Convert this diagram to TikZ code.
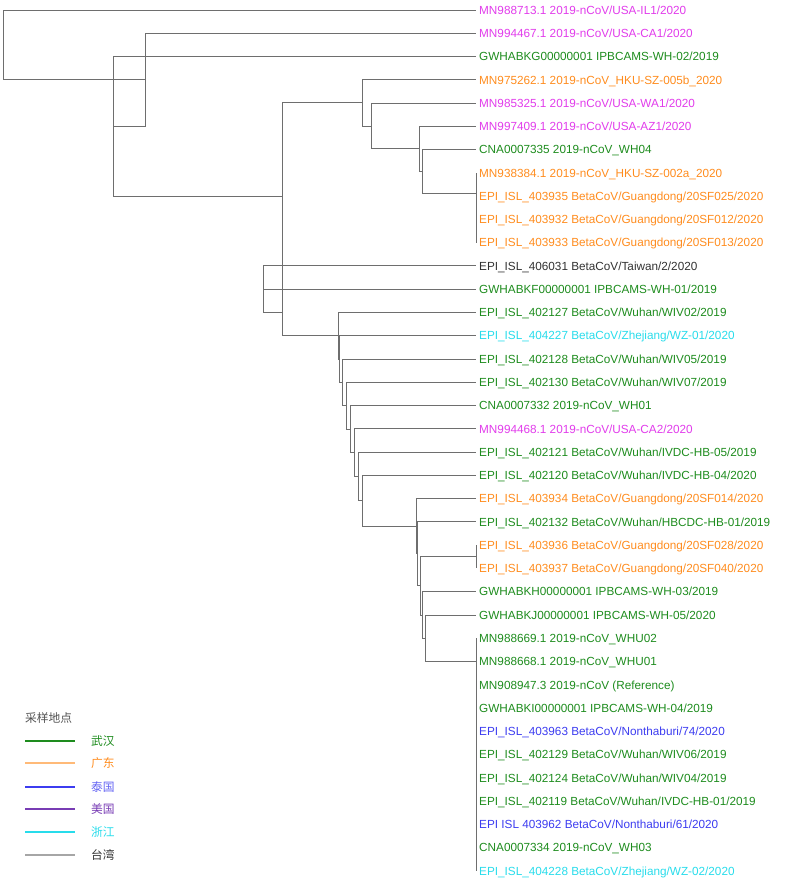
\documentclass[tikz,border=0pt]{standalone}
\usepackage{fontspec}
\setmainfont{Liberation Sans}
\newfontfamily\cjk{Noto Sans CJK SC}
\definecolor{wuhan}{RGB}{30,140,30}
\definecolor{gdong}{RGB}{255,140,30}
\definecolor{usa}{RGB}{225,60,235}
\definecolor{thai}{RGB}{60,60,240}
\definecolor{zhej}{RGB}{40,220,235}
\definecolor{taiw}{RGB}{50,50,50}
\definecolor{usakey}{RGB}{120,60,180}
\definecolor{branch}{RGB}{110,110,110}
\tikzset{
  leaf/.style={anchor=west, inner xsep=3pt, inner ysep=0pt, text height=8.4pt, text depth=0pt, font=\fontsize{11.75}{14}\selectfont},
  edge/.style={draw=branch, line width=1pt},
  keyline/.style={line width=1.2pt},
  keytext/.style={anchor=west, inner sep=0pt, font=\cjk\fontsize{11.75}{14}\selectfont}
}
\begin{document}
\begin{tikzpicture}[x=1pt, y=-1pt]
\useasboundingbox (0,0) rectangle (790,889);
\node [leaf, text=usa] (l1) at (476,10) {MN988713.1 2019-nCoV/USA-IL1/2020};
\node [leaf, text=usa] (l2) at (476,33.27) {MN994467.1 2019-nCoV/USA-CA1/2020};
\node [leaf, text=wuhan] (l3) at (476,56.54) {GWHABKG00000001 IPBCAMS-WH-02/2019};
\node [leaf, text=gdong] (l4) at (476,79.81) {MN975262.1 2019-nCoV\_HKU-SZ-005b\_2020};
\node [leaf, text=usa] (l5) at (476,103.08) {MN985325.1 2019-nCoV/USA-WA1/2020};
\node [leaf, text=usa] (l6) at (476,126.35) {MN997409.1 2019-nCoV/USA-AZ1/2020};
\node [leaf, text=wuhan] (l7) at (476,149.62) {CNA0007335 2019-nCoV\_WH04};
\node [leaf, text=gdong] (l8) at (476,172.89) {MN938384.1 2019-nCoV\_HKU-SZ-002a\_2020};
\node [leaf, text=gdong] (l9) at (476,196.16) {EPI\_ISL\_403935 BetaCoV/Guangdong/20SF025/2020};
\node [leaf, text=gdong] (l10) at (476,219.43) {EPI\_ISL\_403932 BetaCoV/Guangdong/20SF012/2020};
\node [leaf, text=gdong] (l11) at (476,242.70) {EPI\_ISL\_403933 BetaCoV/Guangdong/20SF013/2020};
\node [leaf, text=taiw] (l12) at (476,265.97) {EPI\_ISL\_406031 BetaCoV/Taiwan/2/2020};
\node [leaf, text=wuhan] (l13) at (476,289.24) {GWHABKF00000001 IPBCAMS-WH-01/2019};
\node [leaf, text=wuhan] (l14) at (476,312.51) {EPI\_ISL\_402127 BetaCoV/Wuhan/WIV02/2019};
\node [leaf, text=zhej] (l15) at (476,335.78) {EPI\_ISL\_404227 BetaCoV/Zhejiang/WZ-01/2020};
\node [leaf, text=wuhan] (l16) at (476,359.05) {EPI\_ISL\_402128 BetaCoV/Wuhan/WIV05/2019};
\node [leaf, text=wuhan] (l17) at (476,382.32) {EPI\_ISL\_402130 BetaCoV/Wuhan/WIV07/2019};
\node [leaf, text=wuhan] (l18) at (476,405.59) {CNA0007332 2019-nCoV\_WH01};
\node [leaf, text=usa] (l19) at (476,428.86) {MN994468.1 2019-nCoV/USA-CA2/2020};
\node [leaf, text=wuhan] (l20) at (476,452.13) {EPI\_ISL\_402121 BetaCoV/Wuhan/IVDC-HB-05/2019};
\node [leaf, text=wuhan] (l21) at (476,475.40) {EPI\_ISL\_402120 BetaCoV/Wuhan/IVDC-HB-04/2020};
\node [leaf, text=gdong] (l22) at (476,498.67) {EPI\_ISL\_403934 BetaCoV/Guangdong/20SF014/2020};
\node [leaf, text=wuhan] (l23) at (476,521.94) {EPI\_ISL\_402132 BetaCoV/Wuhan/HBCDC-HB-01/2019};
\node [leaf, text=gdong] (l24) at (476,545.21) {EPI\_ISL\_403936 BetaCoV/Guangdong/20SF028/2020};
\node [leaf, text=gdong] (l25) at (476,568.48) {EPI\_ISL\_403937 BetaCoV/Guangdong/20SF040/2020};
\node [leaf, text=wuhan] (l26) at (476,591.75) {GWHABKH00000001 IPBCAMS-WH-03/2019};
\node [leaf, text=wuhan] (l27) at (476,615.02) {GWHABKJ00000001 IPBCAMS-WH-05/2020};
\node [leaf, text=wuhan] (l28) at (476,638.29) {MN988669.1 2019-nCoV\_WHU02};
\node [leaf, text=wuhan] (l29) at (476,661.56) {MN988668.1 2019-nCoV\_WHU01};
\node [leaf, text=wuhan] (l30) at (476,684.83) {MN908947.3 2019-nCoV (Reference)};
\node [leaf, text=wuhan] (l31) at (476,708.10) {GWHABKI00000001 IPBCAMS-WH-04/2019};
\node [leaf, text=thai] (l32) at (476,731.37) {EPI\_ISL\_403963 BetaCoV/Nonthaburi/74/2020};
\node [leaf, text=wuhan] (l33) at (476,754.64) {EPI\_ISL\_402129 BetaCoV/Wuhan/WIV06/2019};
\node [leaf, text=wuhan] (l34) at (476,777.91) {EPI\_ISL\_402124 BetaCoV/Wuhan/WIV04/2019};
\node [leaf, text=wuhan] (l35) at (476,801.18) {EPI\_ISL\_402119 BetaCoV/Wuhan/IVDC-HB-01/2019};
\node [leaf, text=thai] (l36) at (476,824.45) {EPI ISL 403962 BetaCoV/Nonthaburi/61/2020};
\node [leaf, text=wuhan] (l37) at (476,847.72) {CNA0007334 2019-nCoV\_WH03};
\node [leaf, text=zhej] (l38) at (476,870.99) {EPI\_ISL\_404228 BetaCoV/Zhejiang/WZ-02/2020};
% inner nodes of the tree
\coordinate (c1) at (3,44.9);
\coordinate (c2) at (145,79.8);
\coordinate (c3) at (113,126.3);
\coordinate (d) at (282,196.05);
\coordinate (c4) at (362.5,102.9);
\coordinate (c5) at (371.7,126.0);
\coordinate (c6) at (419.3,148.9);
\coordinate (c7) at (422.3,171.4);
\coordinate (c8) at (476,193.2);
\coordinate (c9) at (476,213.6);
\coordinate (c10) at (476,231.07);
\coordinate (c12) at (263.3,289.2);
\coordinate (c13) at (282.7,312.5);
\coordinate (c14) at (338.3,335.8);
\coordinate (c15) at (339.3,359.1);
\coordinate (c16) at (342.7,382.4);
\coordinate (c17) at (346.7,405.7);
\coordinate (c18) at (350.7,429.1);
\coordinate (c19) at (354.7,452.7);
\coordinate (c20) at (358.7,476.5);
\coordinate (c21) at (362.8,500.85);
\coordinate (c22) at (416,526.3);
\coordinate (c23) at (417.5,553.9);
\coordinate (c24) at (420.3,585.9);
\coordinate (p24) at (476,556.85);
\coordinate (c26) at (422.3,615.0);
\coordinate (c27) at (425,638.28);
\coordinate (c28) at (476,661.54);
\coordinate (c29) at (476,684.79);
\coordinate (c30) at (476,708.01);
\coordinate (c31) at (476,731.19);
\coordinate (c32) at (476,754.28);
\coordinate (c33) at (476,777.18);
\coordinate (c34) at (476,799.73);
\coordinate (c35) at (476,821.54);
\coordinate (c36) at (476,841.9);
\coordinate (c37) at (476,859.36);
% branches
\draw [edge] (c1) |- (l1.west) (c1) |- (c2);
\draw [edge] (c2) |- (l2.west) (c2) |- (c3);
\draw [edge] (c3) |- (l3.west) (c3) |- (d);
\draw [edge] (d) |- (c4) (d) |- (c12);
\draw [edge] (c4) |- (l4.west) (c4) |- (c5);
\draw [edge] (c5) |- (l5.west) (c5) |- (c6);
\draw [edge] (c6) |- (l6.west) (c6) |- (c7);
\draw [edge] (c7) |- (l7.west) (c7) |- (c8);
\draw [edge] (c8) |- (l8.west) (c8) |- (c9);
\draw [edge] (c9) |- (l9.west) (c9) |- (c10);
\draw [edge] (c10) |- (l10.west) (c10) |- (l11.west);
\draw [edge] (c12) |- (l12.west) (c12) |- (c13);
\draw [edge] (c13) |- (l13.west) (c13) |- (c14);
\draw [edge] (c14) |- (l14.west) (c14) |- (c15);
\draw [edge] (c15) |- (l15.west) (c15) |- (c16);
\draw [edge] (c16) |- (l16.west) (c16) |- (c17);
\draw [edge] (c17) |- (l17.west) (c17) |- (c18);
\draw [edge] (c18) |- (l18.west) (c18) |- (c19);
\draw [edge] (c19) |- (l19.west) (c19) |- (c20);
\draw [edge] (c20) |- (l20.west) (c20) |- (c21);
\draw [edge] (c21) |- (l21.west) (c21) |- (c22);
\draw [edge] (c22) |- (l22.west) (c22) |- (c23);
\draw [edge] (c23) |- (l23.west) (c23) |- (c24);
\draw [edge] (c24) |- (p24) (c24) |- (c26);
\draw [edge] (p24) |- (l24.west) (p24) |- (l25.west);
\draw [edge] (c26) |- (l26.west) (c26) |- (c27);
\draw [edge] (c27) |- (l27.west) (c27) |- (c28);
\draw [edge] (c28) |- (l28.west) (c28) |- (c29);
\draw [edge] (c29) |- (l29.west) (c29) |- (c30);
\draw [edge] (c30) |- (l30.west) (c30) |- (c31);
\draw [edge] (c31) |- (l31.west) (c31) |- (c32);
\draw [edge] (c32) |- (l32.west) (c32) |- (c33);
\draw [edge] (c33) |- (l33.west) (c33) |- (c34);
\draw [edge] (c34) |- (l34.west) (c34) |- (c35);
\draw [edge] (c35) |- (l35.west) (c35) |- (c36);
\draw [edge] (c36) |- (l36.west) (c36) |- (c37);
\draw [edge] (c37) |- (l37.west) (c37) |- (l38.west);
% legend
\node [keytext, text=taiw!85] (keytitle) at (25,718) {采样地点};
\draw [keyline, draw=wuhan] (25,741) -- (75,741);
\node [keytext, text=wuhan] (k1) at (91,741) {武汉};
\draw [keyline, draw=gdong!60] (25,763) -- (75,763);
\node [keytext, text=gdong] (k2) at (91,763) {广东};
\draw [keyline, draw=thai] (25,787) -- (75,787);
\node [keytext, text=thai!80] (k3) at (91,787) {泰国};
\draw [keyline, draw=usakey] (25,809) -- (75,809);
\node [keytext, text=usakey] (k4) at (91,809) {美国};
\draw [keyline, draw=zhej] (25,832) -- (75,832);
\node [keytext, text=zhej] (k5) at (91,832) {浙江};
\draw [keyline, draw=gray!70] (25,855) -- (75,855);
\node [keytext, text=taiw] (k6) at (91,855) {台湾};
\end{tikzpicture}
\end{document}
